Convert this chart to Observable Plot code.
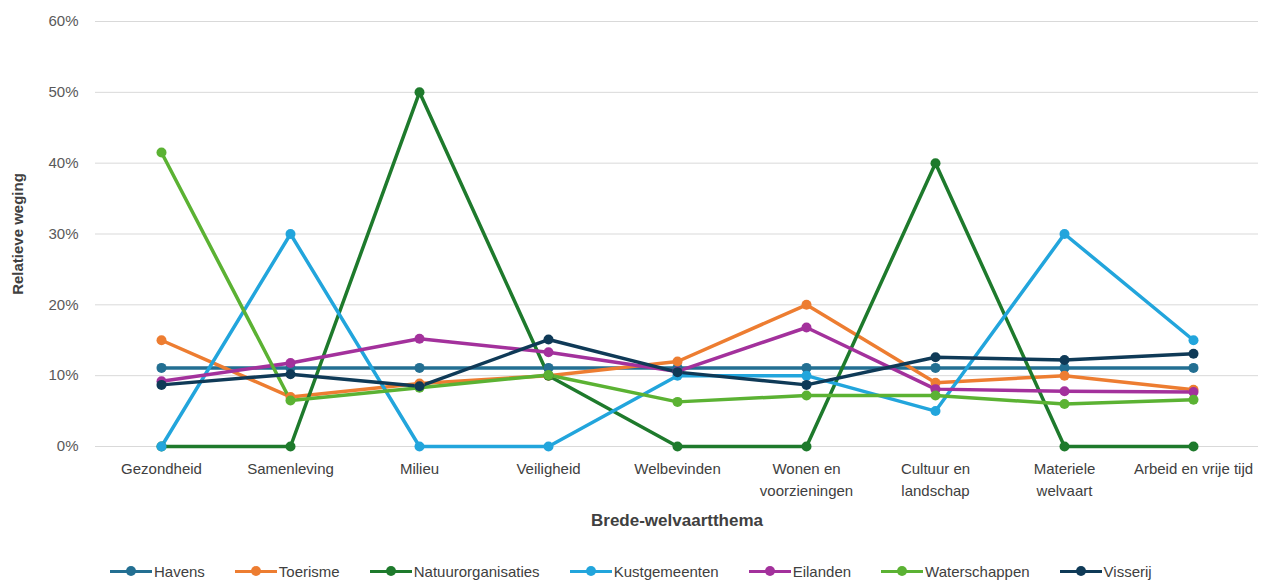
<!DOCTYPE html>
<html>
<head>
<meta charset="utf-8">
<script src="https://cdn.jsdelivr.net/npm/d3@7"></script>
<script src="https://cdn.jsdelivr.net/npm/@observablehq/plot@0.6"></script>
<style>
  html, body { margin: 0; padding: 0; background: #fff; }
  #chart { width: 1265px; }
  .legend { display: flex; justify-content: flex-start; align-items: center; height: 30px; margin-top: 11px; padding-left: 110px;
    font-family: "Liberation Sans Narrow", "Liberation Sans", sans-serif; font-size: 15px; color: #404040; }
  .item { display: flex; align-items: center; margin-right: 30px; }
  .sw { position: relative; width: 42px; height: 12px; margin-right: 2px; }
  .sw .ln { position: absolute; left: 0; right: 0; top: 4.5px; height: 3.5px; }
  .sw .dt { position: absolute; left: 16px; top: 1px; width: 10px; height: 10px; border-radius: 50%; }
</style>
</head>
<body>
<div id="chart"></div>
<script>
const categories = ["Gezondheid", "Samenleving", "Milieu", "Veiligheid", "Welbevinden", "Wonen en voorzieningen", "Cultuur en landschap", "Materiele welvaart", "Arbeid en vrije tijd"];
const tickLabels = ["Gezondheid", "Samenleving", "Milieu", "Veiligheid", "Welbevinden", "Wonen en\nvoorzieningen", "Cultuur en\nlandschap", "Materiele\nwelvaart", "Arbeid en vrije tijd"];
const seriesNames = ["Havens", "Toerisme", "Natuurorganisaties", "Kustgemeenten", "Eilanden", "Waterschappen", "Visserij"];
const seriesColors = ["#236f92", "#ed7d31", "#1e7a2c", "#22a5dc", "#a3319c", "#5bb233", "#0f3a57"];

const havens            = [11.1, 11.1, 11.1, 11.1, 11.1, 11.1, 11.1, 11.1, 11.1];
const toerisme          = [15.0, 7.0, 8.9, 10.0, 12.0, 20.0, 9.0, 10.0, 8.0];
const natuurorganisaties = [0, 0, 50.0, 10.0, 0, 0, 40.0, 0, 0];
const kustgemeenten     = [0, 30.0, 0, 0, 10.0, 10.0, 5.0, 30.0, 15.0];
const eilanden          = [9.2, 11.8, 15.2, 13.3, 10.6, 16.8, 8.1, 7.8, 7.7];
const waterschappen     = [41.5, 6.5, 8.3, 10.1, 6.3, 7.2, 7.2, 6.0, 6.6];
const visserij          = [8.7, 10.2, 8.5, 15.1, 10.5, 8.7, 12.6, 12.2, 13.1];

const yTicks = [0, 10, 20, 30, 40, 50, 60];

const seriesValues = [havens, toerisme, natuurorganisaties, kustgemeenten, eilanden, waterschappen, visserij];
const data = [];
seriesNames.forEach((s, i) => {
  categories.forEach((c, j) => data.push({series: s, category: c, value: seriesValues[i][j]}));
});
const labelOf = new Map(categories.map((c, i) => [c, tickLabels[i]]));

const font = "'Liberation Sans Narrow', 'Liberation Sans', sans-serif";

const plot = Plot.plot({
  width: 1265,
  height: 545,
  marginLeft: 95,
  marginRight: 7,
  marginTop: 21,
  marginBottom: 99,
  style: { fontFamily: font, fontSize: "15px", color: "#404040", background: "#fff" },
  x: { type: "point", domain: categories, padding: 0.5, label: null },
  y: { domain: [0, 60], label: null },
  color: { domain: seriesNames, range: seriesColors },
  marks: [
    Plot.gridY(yTicks, { stroke: "#d9d9d9", strokeOpacity: 1, strokeWidth: 1 }),
    Plot.axisY(yTicks, { tickSize: 0, tickPadding: 17, tickFormat: d => d + "%", fontFamily: "'Liberation Sans', Arial, sans-serif", fontSize: 15, fill: "#595959", label: null }),
    Plot.axisX({ tickSize: 0, tickPadding: 12, tickFormat: d => labelOf.get(d), fontSize: 15, fill: "#404040", lineHeight: 1.45, label: null }),
    Plot.line(data, { x: "category", y: "value", z: "series", stroke: "series", strokeWidth: 3.5, curve: "linear" }),
    Plot.dot(data, { x: "category", y: "value", fill: "series", r: 5 }),
    Plot.text(["Relatieve weging"], { frameAnchor: "left", dx: -77, rotate: -90, textAnchor: "middle", fontFamily: "'Liberation Sans', Arial, sans-serif", fontWeight: "bold", fontSize: 15, fill: "#404040" }),
    Plot.text(["Brede-welvaartthema"], { frameAnchor: "bottom", dy: 79, fontWeight: "bold", fontSize: 17, fill: "#404040" })
  ]
});
document.getElementById("chart").appendChild(plot);

const legend = document.createElement("div");
legend.className = "legend";
seriesNames.forEach((s, i) => {
  const item = document.createElement("div");
  item.className = "item";
  item.innerHTML = `<span class="sw"><span class="ln" style="background:${seriesColors[i]}"></span><span class="dt" style="background:${seriesColors[i]}"></span></span><span>${s}</span>`;
  legend.appendChild(item);
});
document.getElementById("chart").appendChild(legend);
</script>
</body>
</html>
